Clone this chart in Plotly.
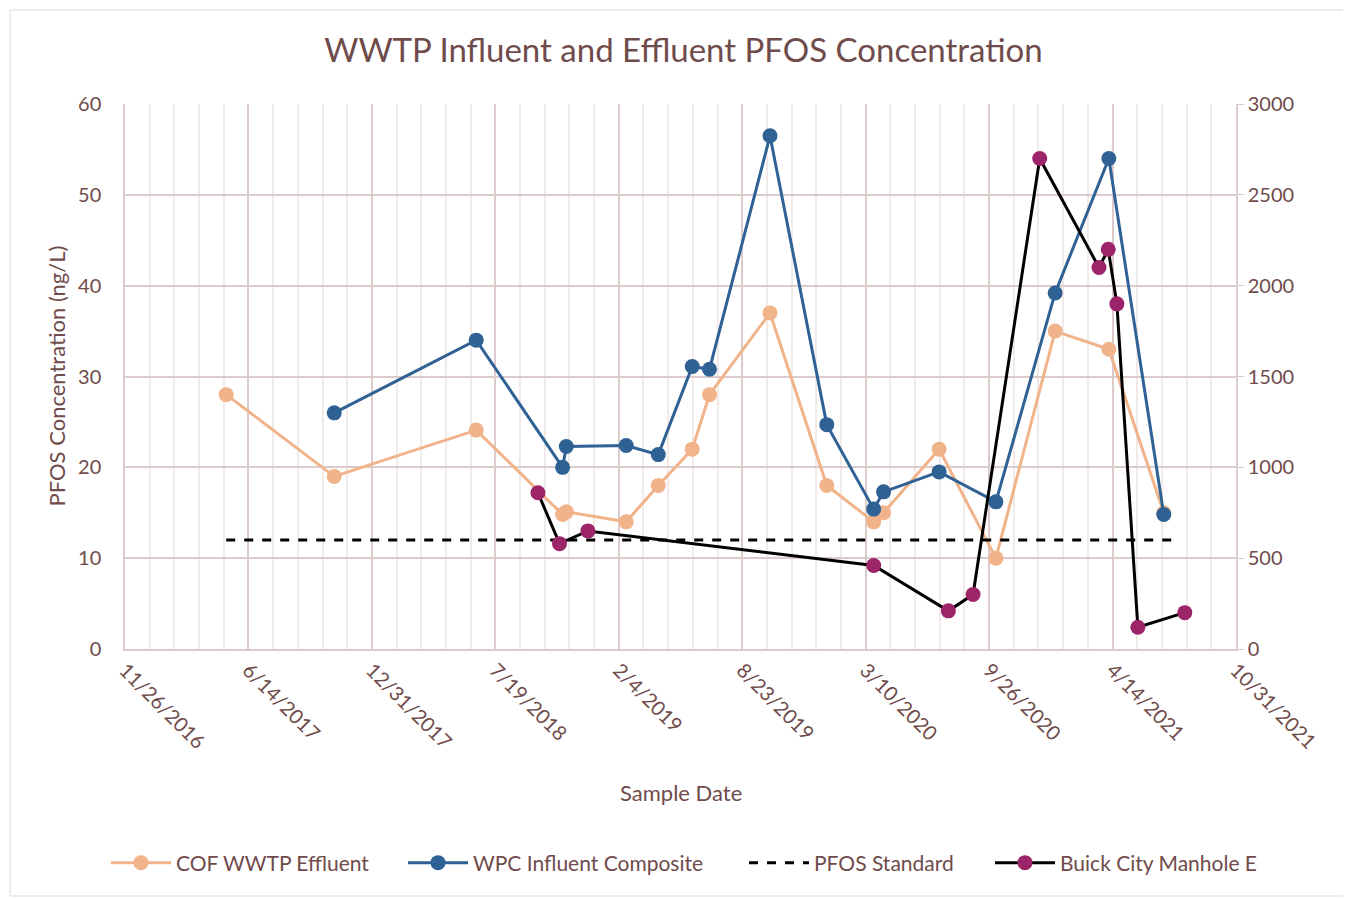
import plotly.graph_objects as go

# ---- data ----
cof_dates = ["2017-05-09", "2017-10-31", "2018-06-18", "2018-11-05", "2018-11-11", "2019-02-16",
             "2019-04-09", "2019-06-03", "2019-07-01", "2019-10-07", "2020-01-07", "2020-03-23",
             "2020-04-08", "2020-07-07", "2020-10-07", "2021-01-11", "2021-04-08", "2021-07-06"]
cof_values = [28, 19, 24.1, 14.8, 15.1, 14, 18, 22, 28, 37, 18, 14, 15, 22, 10, 35, 33, 15]

wpc_dates = ["2017-10-31", "2018-06-18", "2018-11-05", "2018-11-11", "2019-02-16", "2019-04-09",
             "2019-06-03", "2019-07-01", "2019-10-07", "2020-01-07", "2020-03-23", "2020-04-08",
             "2020-07-07", "2020-10-07", "2021-01-11", "2021-04-08", "2021-07-06"]
wpc_values = [26, 34, 20, 22.3, 22.4, 21.4, 31.1, 30.8, 56.5, 24.7, 15.4, 17.3, 19.5, 16.2, 39.2, 54, 14.8]

std_dates = ["2017-05-09", "2021-07-29"]
std_values = [12, 12]

buick_dates = ["2018-09-26", "2018-10-31", "2018-12-16", "2020-03-23", "2020-07-22", "2020-08-31",
               "2020-12-17", "2021-03-23", "2021-04-07", "2021-04-21", "2021-05-25", "2021-08-09"]
buick_values = [860, 580, 650, 460, 210, 300, 2700, 2100, 2200, 1900, 120, 200]

title_text = "WWTP Influent and Effluent PFOS Concentration"
x_title = "Sample Date"
y_title = "PFOS Concentration (ng/L)"

# ---- style ----
TXT = "#6F4B4B"
FONT = "Lato"
ORANGE = "#F1B38A"
BLUE = "#2F6195"
PURPLE = "#9C2468"
GRID = "#DCCBCB"
MINOR = "#F2E9E9"
DAY = 86400000

fig = go.Figure()
fig.add_trace(go.Scatter(x=cof_dates, y=cof_values, name="COF WWTP Effluent", mode="lines+markers",
                         line=dict(color=ORANGE, width=3), marker=dict(color=ORANGE, size=15),
                         legend="legend"))
fig.add_trace(go.Scatter(x=wpc_dates, y=wpc_values, name="WPC Influent Composite", mode="lines+markers",
                         line=dict(color=BLUE, width=3), marker=dict(color=BLUE, size=15),
                         legend="legend2"))
fig.add_trace(go.Scatter(x=std_dates, y=std_values, name="PFOS Standard", mode="lines",
                         line=dict(color="black", width=3, dash="dash"), legend="legend3"))
fig.add_trace(go.Scatter(x=buick_dates, y=buick_values, name="Buick City Manhole E", mode="lines+markers",
                         line=dict(color="black", width=3), marker=dict(color=PURPLE, size=15),
                         yaxis="y2", legend="legend4"))

LEG_Y = 1 - (863 - 8) / 899


def leg(px):
    return dict(orientation="h", xref="container", yref="container",
                x=(px - 8) / 1351, xanchor="left", y=LEG_Y, yanchor="middle",
                font=dict(size=21, color=TXT), itemwidth=60, bgcolor="rgba(0,0,0,0)")


fig.update_layout(
    width=1351, height=899,
    margin=dict(l=117, r=123, t=96, b=258),
    paper_bgcolor="white", plot_bgcolor="white",
    font=dict(family=FONT, color=TXT, size=20),
    title=dict(text=title_text, x=0.5, xanchor="center", y=(899 - 50 + 8) / 899, yanchor="middle",
               font=dict(size=33, color=TXT, family=FONT)),
    showlegend=True,
    legend=leg(106),
    legend2=leg(403),
    legend3=leg(744),
    legend4=leg(990),
    xaxis=dict(
        type="date",
        range=["2016-11-26", "2021-10-31"],
        tick0="2016-11-26", dtick=200 * DAY,
        tickformat="%-m/%-d/%Y", tickangle=45,
        showgrid=True, gridcolor=GRID, gridwidth=1.5,
        minor=dict(dtick=40 * DAY, tick0="2016-11-26", showgrid=True, gridcolor=MINOR, gridwidth=1.5),
        showline=True, linecolor=GRID, linewidth=1.5,
        ticks="", zeroline=False,
        tickfont=dict(size=20, color=TXT),
    ),
    yaxis=dict(
        range=[0, 60], dtick=10,
        showgrid=True, gridcolor=GRID, gridwidth=1.5,
        showline=True, linecolor=GRID, linewidth=1.5,
        ticks="", zeroline=False, ticklabelstandoff=18,
        tickfont=dict(size=20, color=TXT),
    ),
    yaxis2=dict(
        range=[0, 3000], dtick=500, overlaying="y", side="right",
        showgrid=False, showline=True, linecolor=GRID, linewidth=1.5,
        ticks="outside", ticklen=6, tickcolor=GRID, zeroline=False,
        tickfont=dict(size=20, color=TXT),
    ),
    annotations=[
        dict(text=x_title, xref="paper", yref="paper", x=0.5, y=(649 - 792) / 545,
             showarrow=False, font=dict(size=22, color=TXT), xanchor="center", yanchor="middle"),
        dict(text=y_title, xref="paper", yref="paper", x=(56 - 125) / 1111, y=0.5,
             showarrow=False, textangle=-90, font=dict(size=22, color=TXT),
             xanchor="center", yanchor="middle"),
    ],
    shapes=[
        dict(type="rect", xref="paper", yref="paper",
             x0=(10 - 125) / 1111, x1=(1347 - 125) / 1111,
             y0=(649 - 896) / 545, y1=(649 - 10) / 545,
             line=dict(color="#D9D9D9", width=1), fillcolor="rgba(0,0,0,0)", layer="below"),
    ],
)

fig.write_html("out.html")
